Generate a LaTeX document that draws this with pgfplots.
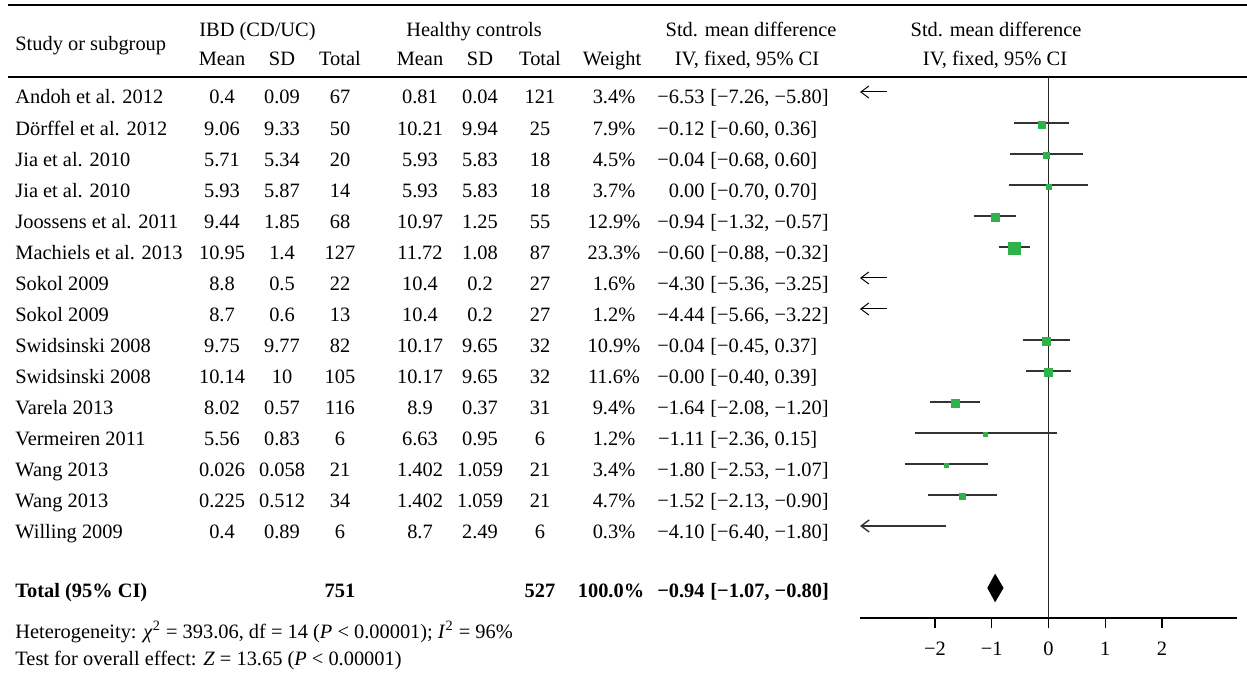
\documentclass[border=0pt]{standalone}
\usepackage{fontspec}
\setmainfont{Liberation Serif}
\usepackage{pgfplots}
\pgfplotsset{compat=1.18}
\usepackage{pgfplotstable}
\usetikzlibrary{arrows.meta}
\definecolor{boxgreen}{RGB}{45,178,76}
\newcommand\tf{\fontsize{10.2}{12.2}\selectfont}

\pgfplotstableread{
row smd ms
-2 -0.12 1.75
-3 -0.04 1.4
-4 0.00 1.3
-5 -0.94 2.1
-6 -0.60 3.0
-9 -0.04 2.05
-10 -0.00 2.1
-11 -1.64 1.9
-12 -1.11 1.1
-13 -1.80 1.15
-14 -1.52 1.35
}\boxes

\newcommand\trow[9]{%
  \node[anchor=base west] at (15,#1) {#2};
  \node[anchor=base] at (222,#1) {#3};
  \node[anchor=base] at (282,#1) {#4};
  \node[anchor=base] at (340,#1) {#5};
  \node[anchor=base] at (420,#1) {#6};
  \node[anchor=base] at (480,#1) {#7};
  \node[anchor=base] at (540,#1) {#8};
  \node[anchor=base] at (614,#1) {#9};
}
\newcommand\trci[3]{%
  \node[anchor=base east] at (705,#1) {#2};
  \node[anchor=base west] at (710,#1) {#3};
}

\begin{document}
\begin{tikzpicture}
\begin{scope}[x=0.5pt,y=-0.5pt,every node/.style={inner sep=0pt,font=\tf}]
\path[use as bounding box] (0,0) rectangle (1247,674);
\draw[line width=0.8pt] (8,5) -- (1247,5);
\draw[line width=0.8pt] (8,77) -- (1247,77);
% headers
\node[anchor=base west] at (15,51) {Study or subgroup};
\node[anchor=base west] at (199,37) {IBD (CD/UC)};
\node[anchor=base west] at (406,37) {Healthy controls};
\node[anchor=base] at (222,66) {Mean};
\node[anchor=base] at (282,66) {SD};
\node[anchor=base] at (340,66) {Total};
\node[anchor=base] at (420,66) {Mean};
\node[anchor=base] at (480,66) {SD};
\node[anchor=base] at (540,66) {Total};
\node[anchor=base] at (612,66) {Weight};
\node[anchor=base] at (751,37) {Std. mean difference};
\node[anchor=base] at (747,66) {IV, fixed, 95\% CI};
\node[anchor=base] at (996,37) {Std. mean difference};
\node[anchor=base] at (995,66) {IV, fixed, 95\% CI};
% rows
\trow{104}{Andoh et al. 2012}{0.4}{0.09}{67}{0.81}{0.04}{121}{3.4\%}
\trci{104}{−6.53}{[−7.26, −5.80]}
\trow{135}{Dörffel et al. 2012}{9.06}{9.33}{50}{10.21}{9.94}{25}{7.9\%}
\trci{135}{−0.12}{[−0.60, 0.36]}
\trow{166}{Jia et al. 2010}{5.71}{5.34}{20}{5.93}{5.83}{18}{4.5\%}
\trci{166}{−0.04}{[−0.68, 0.60]}
\trow{197}{Jia et al. 2010}{5.93}{5.87}{14}{5.93}{5.83}{18}{3.7\%}
\trci{197}{0.00}{[−0.70, 0.70]}
\trow{228}{Joossens et al. 2011}{9.44}{1.85}{68}{10.97}{1.25}{55}{12.9\%}
\trci{228}{−0.94}{[−1.32, −0.57]}
\trow{259}{Machiels et al. 2013}{10.95}{1.4}{127}{11.72}{1.08}{87}{23.3\%}
\trci{259}{−0.60}{[−0.88, −0.32]}
\trow{290}{Sokol 2009}{8.8}{0.5}{22}{10.4}{0.2}{27}{1.6\%}
\trci{290}{−4.30}{[−5.36, −3.25]}
\trow{321}{Sokol 2009}{8.7}{0.6}{13}{10.4}{0.2}{27}{1.2\%}
\trci{321}{−4.44}{[−5.66, −3.22]}
\trow{352}{Swidsinski 2008}{9.75}{9.77}{82}{10.17}{9.65}{32}{10.9\%}
\trci{352}{−0.04}{[−0.45, 0.37]}
\trow{383}{Swidsinski 2008}{10.14}{10}{105}{10.17}{9.65}{32}{11.6\%}
\trci{383}{−0.00}{[−0.40, 0.39]}
\trow{414}{Varela 2013}{8.02}{0.57}{116}{8.9}{0.37}{31}{9.4\%}
\trci{414}{−1.64}{[−2.08, −1.20]}
\trow{445}{Vermeiren 2011}{5.56}{0.83}{6}{6.63}{0.95}{6}{1.2\%}
\trci{445}{−1.11}{[−2.36, 0.15]}
\trow{476}{Wang 2013}{0.026}{0.058}{21}{1.402}{1.059}{21}{3.4\%}
\trci{476}{−1.80}{[−2.53, −1.07]}
\trow{507}{Wang 2013}{0.225}{0.512}{34}{1.402}{1.059}{21}{4.7\%}
\trci{507}{−1.52}{[−2.13, −0.90]}
\trow{538}{Willing 2009}{0.4}{0.89}{6}{8.7}{2.49}{6}{0.3\%}
\trci{538}{−4.10}{[−6.40, −1.80]}
% total
\node[anchor=base west] at (15,597) {\bfseries Total (95\% CI)};
\node[anchor=base] at (340,597) {\bfseries 751};
\node[anchor=base] at (540,597) {\bfseries 527};
\node[anchor=base] at (611,597) {\bfseries 100.0\%};
\node[anchor=base east] at (705,597) {\bfseries −0.94};
\node[anchor=base west] at (710,597) {\bfseries [−1.07, −0.80]};
\node[anchor=base west] at (15,638) {Heterogeneity: \textit{χ}\textsuperscript{2} = 393.06, df = 14 (\textit{P} < 0.00001); \textit{I}\textsuperscript{2} = 96\%};
\node[anchor=base west] at (15,665) {Test for overall effect: \textit{Z} = 13.65 (\textit{P} < 0.00001)};
\end{scope}

\begin{axis}[at={(430pt,-309pt)}, anchor=south west, scale only axis,
  width=188.5pt, height=270.5pt,
  xmin=-3.32, xmax=3.32, ymin=-17.97, ymax=-0.516,
  axis x line=bottom, axis y line=none,
  x axis line style={-, line width=0.6pt},
  xtick={-2,-1,0,1,2}, xticklabels={−2,−1,0,1,2},
  tick align=outside, major tick length=5pt,
  tick style={black, line width=0.6pt},
  xticklabel style={font=\tf, yshift=-3.5pt},
  clip=false]
% zero line
\addplot[black!85, line width=0.7pt] coordinates {(0,-0.516) (0,-17.97)};
% confidence intervals
\addplot[black!80, line width=0.75pt, unbounded coords=jump] table {
x y
-0.60 -2
0.36 -2
nan nan
-0.68 -3
0.60 -3
nan nan
-0.70 -4
0.70 -4
nan nan
-1.32 -5
-0.57 -5
nan nan
-0.88 -6
-0.32 -6
nan nan
-0.45 -9
0.37 -9
nan nan
-0.40 -10
0.39 -10
nan nan
-2.08 -11
-1.20 -11
nan nan
-2.36 -12
0.15 -12
nan nan
-2.53 -13
-1.07 -13
nan nan
-2.13 -14
-0.90 -14
};
% out-of-range arrows
\addplot[black, line width=0.5pt, -{Straight Barb[length=4pt,width=6pt]}] coordinates {(-2.84,-1) (-3.32,-1)};
\addplot[black, line width=0.5pt, -{Straight Barb[length=4pt,width=6pt]}] coordinates {(-2.84,-7) (-3.32,-7)};
\addplot[black, line width=0.5pt, -{Straight Barb[length=4pt,width=6pt]}] coordinates {(-2.84,-8) (-3.32,-8)};
\addplot[black!80, line width=0.7pt, -{Straight Barb[length=4pt,width=6pt]}] coordinates {(-1.80,-15) (-3.32,-15)};
% boxes
\addplot[scatter, only marks, mark=square*,
  scatter/use mapped color={draw=boxgreen, fill=boxgreen},
  mark options={yshift=-0.8pt},
  visualization depends on={\thisrow{ms}\as\msz},
  scatter/@pre marker code/.append style={/tikz/mark size=\msz pt}]
  table[x=smd, y=row] {\boxes};
% total diamond
\addplot[fill=black, draw=black] coordinates {(-1.07,-17) (-0.94,-16.565) (-0.80,-17) (-0.94,-17.435) (-1.07,-17)};
\end{axis}
\end{tikzpicture}
\end{document}
